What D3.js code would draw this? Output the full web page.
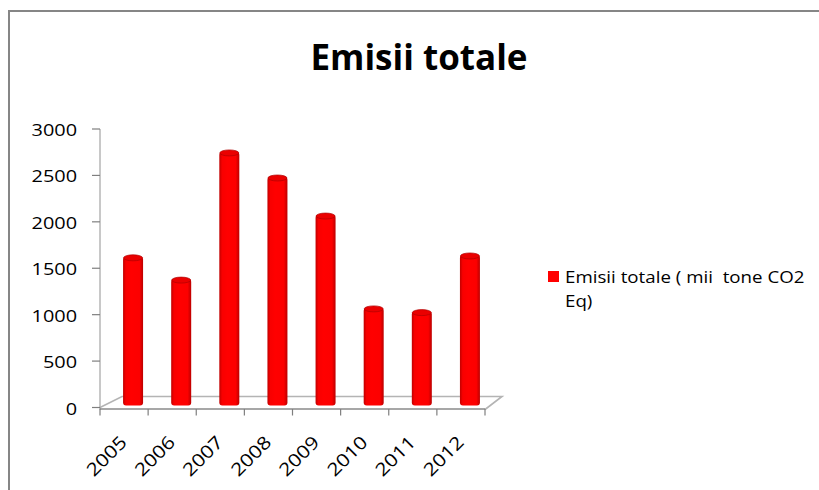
<!DOCTYPE html>
<html>
<head>
<meta charset="utf-8">
<script src="https://cdn.jsdelivr.net/npm/d3@7"></script>
<style>
  html, body { margin: 0; padding: 0; background: #fff; }
  svg { display: block; }
  text { font-family: "Open Sans", "Liberation Sans", sans-serif; fill: #000; white-space: pre; }
</style>
</head>
<body>
<svg id="chart" width="819" height="490"></svg>
<script>
// Total emissions per year (thousand tonnes CO2 eq)
const years = ["2005", "2006", "2007", "2008", "2009", "2010", "2011", "2012"];
const emissions = [1580, 1340, 2710, 2440, 2030, 1030, 990, 1600];
const yTicks = [0, 500, 1000, 1500, 2000, 2500, 3000];
const titleText = "Emisii totale";
const legendLines = ["Emisii totale ( mii  tone CO2", "Eq)"];

const svg = d3.select("#chart");
const W = 819, H = 490;
const plot = { left: 100, right: 485, top: 129, bottom: 407.5 };
const depth = { dx: 22, dy: -11 };      // floor depth offset (3D look)
const barShift = { dx: 9, dy: -4 };     // bars sit mid-depth on the floor
const stretch = 1.17;                  // horizontal text widening

const x = d3.scaleBand().domain(years).range([plot.left, plot.right]).paddingInner(0).paddingOuter(0);
const y = d3.scaleLinear().domain([0, 3000]).range([plot.bottom, plot.top]);

const defs = svg.append("defs");
const grad = defs.append("linearGradient").attr("id", "barGrad").attr("x1", "0").attr("x2", "1").attr("y1", "0").attr("y2", "0");
grad.append("stop").attr("offset", "0%").attr("stop-color", "#c00000");
grad.append("stop").attr("offset", "14%").attr("stop-color", "#f80000");
grad.append("stop").attr("offset", "40%").attr("stop-color", "#ff0000");
grad.append("stop").attr("offset", "82%").attr("stop-color", "#fc0000");
grad.append("stop").attr("offset", "100%").attr("stop-color", "#bb0000");
const blur = defs.append("filter").attr("id", "soft").attr("x", "-10%").attr("y", "-10%").attr("width", "120%").attr("height", "120%");
blur.append("feGaussianBlur").attr("stdDeviation", 0.6);

// outer chart frame
svg.append("rect")
  .attr("x", 9).attr("y", 11).attr("width", 900).attr("height", 600)
  .attr("fill", "none").attr("stroke", "#868686").attr("stroke-width", 2);

// title
svg.append("text")
  .attr("x", 419).attr("y", 70)
  .attr("text-anchor", "middle")
  .attr("font-size", 35).attr("font-weight", 700)
  .text(titleText);

// back wall edge and floor
const wall = svg.append("g").attr("filter", "url(#soft)");
wall.append("line")
  .attr("x1", plot.left).attr("x2", plot.left)
  .attr("y1", y(3000)).attr("y2", y(0))
  .attr("stroke", "#c8c8c8").attr("stroke-width", 2);
const floorPts = [
  [plot.left, y(0)],
  [plot.left + depth.dx, y(0) + depth.dy],
  [plot.right + depth.dx - 5, y(0) + depth.dy],
  [plot.right, y(0) + 2]
];
wall.append("path")
  .attr("d", d3.line()(floorPts))
  .attr("fill", "none").attr("stroke", "#b4b4b4").attr("stroke-width", 1.6);

// bars (rounded columns)
const bw = 20;
const bars = svg.append("g").attr("filter", "url(#soft)");
years.forEach((yr, i) => {
  const cx = x(yr) + x.bandwidth() / 2 + barShift.dx;
  const top = y(emissions[i]) + barShift.dy;
  const base = y(0) + barShift.dy + 2;
  const g = bars.append("g");
  g.append("rect")
    .attr("x", cx - bw / 2).attr("y", top)
    .attr("width", bw).attr("height", base - top)
    .attr("rx", 3)
    .attr("fill", "url(#barGrad)");
  g.append("ellipse")
    .attr("cx", cx).attr("cy", top + 1)
    .attr("rx", bw / 2 - 0.5).attr("ry", 3)
    .attr("fill", "#ea0000").attr("stroke", "#b00000").attr("stroke-width", 0.7);
});

// y axis ticks and labels
const yAxis = svg.append("g");
yTicks.forEach(t => {
  yAxis.append("line")
    .attr("x1", plot.left - 8).attr("x2", plot.left)
    .attr("y1", y(t)).attr("y2", y(t))
    .attr("stroke", "#7f7f7f").attr("stroke-width", 1.2);
  yAxis.append("text")
    .attr("transform", `translate(${plot.left - 23},${y(t) + 7}) scale(${stretch},1)`)
    .attr("text-anchor", "end")
    .attr("font-size", 17)
    .text(t);
});
yAxis.append("line")
  .attr("x1", plot.left).attr("x2", plot.left)
  .attr("y1", y(0)).attr("y2", y(0) + 2)
  .attr("stroke", "#7f7f7f");

// x axis line, ticks and rotated labels
const xAxis = svg.append("g");
xAxis.append("line")
  .attr("x1", plot.left).attr("x2", plot.right)
  .attr("y1", y(0) + 1.5).attr("y2", y(0) + 1.5)
  .attr("stroke", "#8a8a8a").attr("stroke-width", 1.4);
const tickXs = years.map(yr => x(yr)).concat([plot.right]);
tickXs.forEach(tx => {
  xAxis.append("line")
    .attr("x1", tx).attr("x2", tx)
    .attr("y1", y(0) + 1.5).attr("y2", y(0) + 8)
    .attr("stroke", "#7f7f7f").attr("stroke-width", 1.2);
});
years.forEach(yr => {
  const cx = x(yr) + x.bandwidth() / 2;
  xAxis.append("text")
    .attr("transform", `translate(${cx + 4},${y(0) + 36}) rotate(-45) scale(${stretch},1)`)
    .attr("text-anchor", "end")
    .attr("font-size", 18)
    .text(yr);
});

// legend
const legend = svg.append("g");
legend.append("rect")
  .attr("x", 548).attr("y", 271).attr("width", 11).attr("height", 11)
  .attr("fill", "#ff0000");
legendLines.forEach((ln, i) => {
  legend.append("text")
    .attr("transform", `translate(565,${283 + i * 24}) scale(${stretch},1)`)
    .attr("font-size", 16)
    .text(ln);
});
</script>
</body>
</html>
